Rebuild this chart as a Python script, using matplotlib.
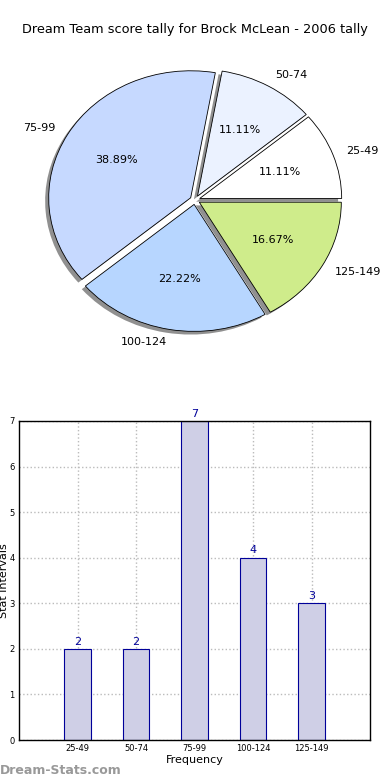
import matplotlib
matplotlib.use("Agg")
import matplotlib.pyplot as plt

categories = ["25-49", "50-74", "75-99", "100-124", "125-149"]
counts = [2, 2, 7, 4, 3]
pie_colors = ["#ffffff", "#ebf2ff", "#c6d9ff", "#b7d6ff", "#cfec8b"]
title = "Dream Team score tally for Brock McLean - 2006 tally"

fig = plt.figure(figsize=(3.9, 7.8), dpi=100)

# Pie
Rx, Ry = 142, 127
axp = fig.add_axes([(195 - Rx)/390, (780 - 200 - Ry)/780, 2*Rx/390, 2*Ry/780])
wedges, texts, autotexts = axp.pie(
    counts, labels=categories, colors=pie_colors, explode=[0.035]*5,
    startangle=0, counterclock=True,
    shadow=dict(ox=-0.018, oy=-0.018, facecolor="#909090", edgecolor="none", alpha=1.0),
    autopct="%.2f%%",
    labeldistance=1.1, pctdistance=0.6,
    wedgeprops=dict(edgecolor="black", linewidth=0.6),
    textprops=dict(fontsize=8))
axp.set_aspect("auto")
axp.set_xlim(-1, 1)
axp.set_ylim(-1, 1)
axp.axis("off")
fig.text(195/390, 1 - 30/780, title, ha="center", va="center", fontsize=9.3)

# Bar
axb = fig.add_axes([19/390, 40/780, 351/390, 319/780])
x = list(range(1, len(categories) + 1))
axb.bar(x, counts, width=0.45, color="#cfcfe6", edgecolor="#000099", linewidth=0.8, zorder=2)
for xi, c in zip(x, counts):
    axb.text(xi, c + 0.05, str(c), ha="center", va="bottom", fontsize=8, color="#000099")
axb.set_xlim(0, 6)
axb.set_ylim(0, 7)
axb.set_xticks(x)
axb.set_xticklabels(categories, fontsize=6)
axb.set_yticks(range(0, 8))
axb.tick_params(axis="y", labelsize=6, length=0, pad=3)
axb.tick_params(axis="x", length=0, pad=3)
axb.grid(True, linestyle=":", color="#bbbbbb", linewidth=1, zorder=0)
axb.set_axisbelow(True)
axb.set_xlabel("Frequency", fontsize=8, labelpad=1)
axb.set_ylabel("Stat intervals", fontsize=8, labelpad=0)
axb.yaxis.set_label_coords(-10/351, 0.5)
for s in axb.spines.values():
    s.set_linewidth(1)

fig.text(0, 1 - 770/780, "Dream-Stats.com", ha="left", va="center", fontsize=9,
         color="#999999", fontweight="bold")

fig.savefig("out.png", dpi=100)
